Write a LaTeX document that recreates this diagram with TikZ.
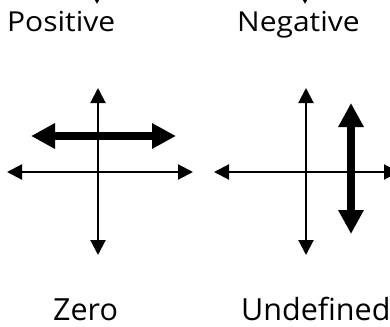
\documentclass[tikz,border=0pt]{standalone}
\usepackage{fontspec}
\setmainfont{Open Sans}
\newfontfamily\topfont[FakeStretch=1.09]{Open Sans}
\usetikzlibrary{arrows.meta}
\tikzset{
  thinarrow/.style={line width=2pt,{Triangle[length=15pt,width=15pt]}-{Triangle[length=15pt,width=15pt]}},
  downarrow/.style={line width=2pt,-{Triangle[length=15pt,width=15pt]}},
  thickarrow/.style={line width=7.5pt,{Triangle[length=24pt,width=24pt]}-{Triangle[length=24pt,width=24pt]}},
  lbl/.style={inner sep=0pt,anchor=base west,font=\topfont\fontsize{27.5}{30}\selectfont},
  lblb/.style={inner sep=0pt,anchor=base west,font=\fontsize{30.5}{33}\selectfont}
}
\begin{document}
\begin{tikzpicture}[x=1pt,y=-1pt]
\useasboundingbox (0,0) rectangle (390,326);
\clip (0,0) rectangle (390,326);
% partial arrows from above
\coordinate (pa1) at (97,-30); \coordinate (pb1) at (97,4);
\coordinate (pa2) at (305,-30); \coordinate (pb2) at (305,4);
\draw[downarrow] (pa1) -- (pb1);
\draw[downarrow] (pa2) -- (pb2);
% labels
\node[lbl] (pos) at (7,32) {Positive};
\node[lbl] (neg) at (237,32) {Negative};
\node[lblb] (zero) at (53,320) {Zero};
\node[lblb] (undef) at (241,320) {Undefined};
% left axes
\coordinate (lt) at (98,88); \coordinate (lb) at (98,255);
\coordinate (ll) at (7,172); \coordinate (lr) at (193,172);
\draw[thinarrow] (lt) -- (lb);
\draw[thinarrow] (ll) -- (lr);
\coordinate (zl) at (31,136); \coordinate (zr) at (176,136);
\draw[thickarrow] (zl) -- (zr);
% right axes
\coordinate (rt) at (306,88); \coordinate (rb) at (306,255);
\coordinate (rl) at (214,172); \coordinate (rr) at (399,172);
\draw[thinarrow] (rt) -- (rb);
\draw[thinarrow] (rl) -- (rr);
\coordinate (ut) at (351,103); \coordinate (ub) at (351,234);
\draw[thickarrow] (ut) -- (ub);
\end{tikzpicture}
\end{document}
